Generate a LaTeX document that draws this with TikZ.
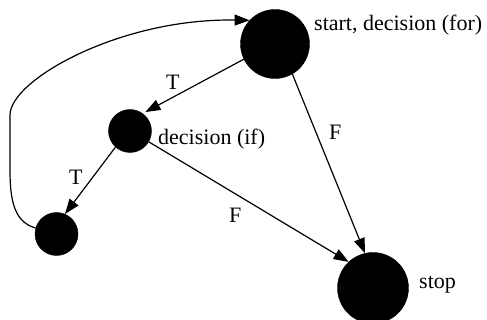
\documentclass[tikz,border=0pt]{standalone}
\usepackage{fontspec}
\setmainfont{Liberation Serif}
\usetikzlibrary{arrows.meta}
\begin{document}
\begin{tikzpicture}[x=1pt,y=-1pt,
  state/.style={circle,fill=black,draw=black,inner sep=0pt},
  lbl/.style={anchor=base west,inner sep=0pt,font=\fontsize{22}{26}\selectfont},
  edge/.style={draw=black,line width=1.2pt,-{Triangle[length=15pt,width=11pt]}}]
\useasboundingbox (0,0) rectangle (487,320);
\node[state,minimum size=69pt] (start) at (275,44) {};
\node[state,minimum size=43pt] (dec) at (130,131) {};
\node[state,minimum size=43pt] (bl) at (56.5,234) {};
\node[state,minimum size=71pt] (stop) at (373,288) {};
\node[lbl] (lstart) at (314,31) {start, decision (for)};
\node[lbl] (ldec) at (158,145) {decision (if)};
\node[lbl] (lstop) at (419,288) {stop};
\node[lbl] (t1) at (166,90) {T};
\node[lbl] (t2) at (69,185) {T};
\node[lbl] (f1) at (329,140) {F};
\node[lbl] (f2) at (229,223) {F};
\draw[edge,shorten >=3pt] (start.206) -- (dec.54);
\draw[edge] (start.-60) -- (stop.103);
\draw[edge] (dec.-30) -- (stop.133);
\draw[edge] (dec.228) -- (bl.67);
\draw[edge] (bl.164) .. controls (14,222) and (10,200) .. (10,170) -- (10,115) .. controls (10,80) and (120,18) .. (start.137);
\end{tikzpicture}
\end{document}
